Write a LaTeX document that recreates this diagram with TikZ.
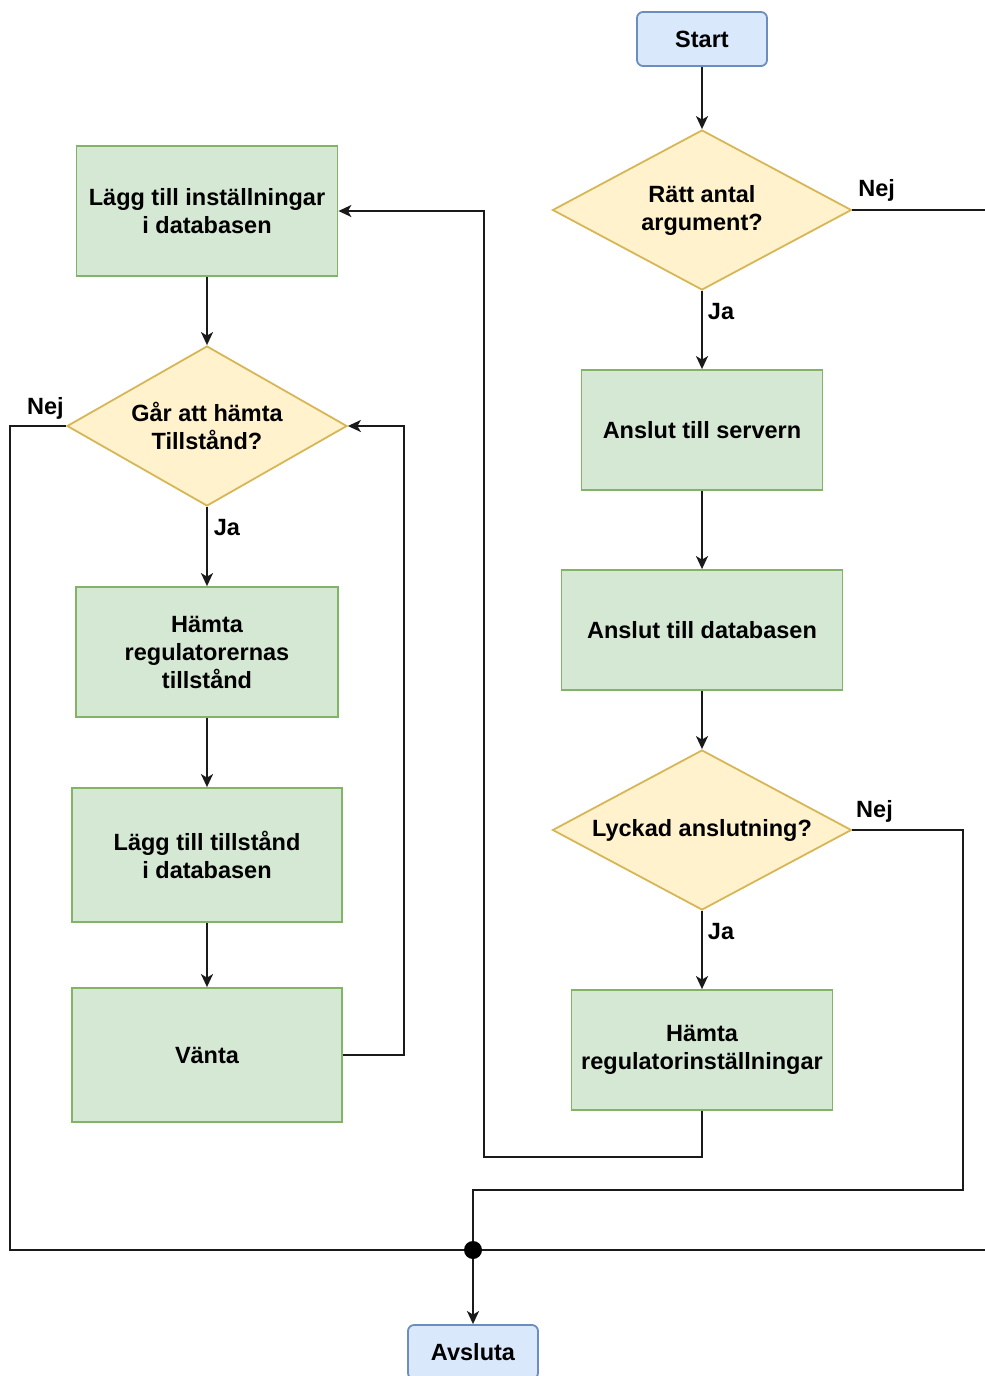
\documentclass[tikz,border=0pt]{standalone}
\usepackage{fontspec}
\setmainfont{Liberation Sans}
\usetikzlibrary{shapes.geometric,arrows.meta}
\definecolor{gfill}{HTML}{D5E8D4}
\definecolor{gdraw}{HTML}{82B366}
\definecolor{yfill}{HTML}{FFF2CC}
\definecolor{ydraw}{HTML}{D6B656}
\definecolor{bfill}{HTML}{DAE8FC}
\definecolor{bdraw}{HTML}{6C8EBF}
\definecolor{ln}{HTML}{1A1A1A}
\begin{document}
\begin{tikzpicture}[x=1pt,y=-1pt,
  every node/.style={font=\fontsize{23.5}{28}\selectfont\bfseries, text=black, align=center},
  procbox/.style={rectangle, draw=gdraw, fill=gfill, line width=1.8pt, inner sep=0},
  decbox/.style={diamond, draw=ydraw, fill=yfill, line width=1.8pt, inner sep=0, aspect=1.87, minimum width=299pt, minimum height=160pt},
  termbox/.style={rectangle, rounded corners=6pt, draw=bdraw, fill=bfill, line width=1.8pt, minimum width=130pt, minimum height=54pt, inner sep=0},
  conn/.style={draw=ln, line width=1.8pt},
  arr/.style={conn, -{Stealth[length=13pt,width=12pt,inset=3.5pt]}},
  lbl/.style={inner sep=0}
]
\useasboundingbox (0,0) rectangle (985,1376);
\clip (0,0) rectangle (985,1376);

\node[termbox] (start) at (702,39) {Start};
\node[decbox] (d1) at (702,210) {Rätt antal\\argument?};
\node[procbox, minimum width=241pt, minimum height=120pt] (srv) at (702,430) {Anslut till servern};
\node[procbox, minimum width=281pt, minimum height=120pt] (db) at (702,630) {Anslut till databasen};
\node[decbox] (d2) at (702,830) {Lyckad anslutning?};
\node[procbox, minimum width=261pt, minimum height=120pt] (hri) at (702,1050) {Hämta\\regulatorinställningar};

\node[procbox, minimum width=261pt, minimum height=130pt] (lti) at (207,211) {Lägg till inställningar\\i databasen};
\node[decbox, minimum width=280pt, aspect=1.75] (d3) at (207,426) {Går att hämta\\Tillstånd?};
\node[procbox, minimum width=262pt, minimum height=130pt] (hrt) at (207,652) {Hämta\\regulatorernas\\tillstånd};
\node[procbox, minimum width=270pt, minimum height=134pt] (ltt) at (207,855) {Lägg till tillstånd\\i databasen};
\node[procbox, minimum width=270pt, minimum height=134pt] (vanta) at (207,1055) {Vänta};

\node[circle, fill=black, inner sep=0, minimum size=18pt] (j) at (473,1250) {};
\node[termbox] (avs) at (473,1352) {Avsluta};

\coordinate (r1) at (995,210);
\coordinate (r2) at (995,1250);
\coordinate (n2a) at (963,830);
\coordinate (n2b) at (963,1190);
\coordinate (n2c) at (473,1190);
\coordinate (h1) at (702,1157);
\coordinate (h2) at (484,1157);
\coordinate (h3) at (484,211);
\coordinate (l1) at (10,426);
\coordinate (l2) at (10,1250);
\coordinate (v1) at (404,1055);
\coordinate (v2) at (404,426);

\draw[arr] (start) -- (d1);
\draw[conn] (d1.east) -- node[lbl,pos=0.17,yshift=20pt]{Nej} (r1) -- (r2) -- (j);
\draw[arr] (d1) -- node[lbl,pos=0.26,xshift=19pt]{Ja} (srv);
\draw[arr] (srv) -- (db);
\draw[arr] (db) -- (d2);
\draw[conn] (d2.east) -- node[lbl,pos=0.2,yshift=19pt]{Nej} (n2a) -- (n2b) -- (n2c) -- (j);
\draw[arr] (d2) -- node[lbl,pos=0.26,xshift=19pt]{Ja} (hri);
\draw[arr] (hri.south) -- (h1) -- (h2) -- (h3) -- (lti.east);
\draw[arr] (lti) -- (d3);
\draw[conn] (d3.west) -- node[lbl,pos=0.37,yshift=18pt]{Nej} (l1) -- (l2) -- (j);
\draw[arr] (d3) -- node[lbl,pos=0.26,xshift=20pt]{Ja} (hrt);
\draw[arr] (hrt) -- (ltt);
\draw[arr] (ltt) -- (vanta);
\draw[arr] (vanta.east) -- (v1) -- (v2) -- (d3.east);
\draw[arr, line width=2.8pt] (j) -- (avs);
\end{tikzpicture}
\end{document}
